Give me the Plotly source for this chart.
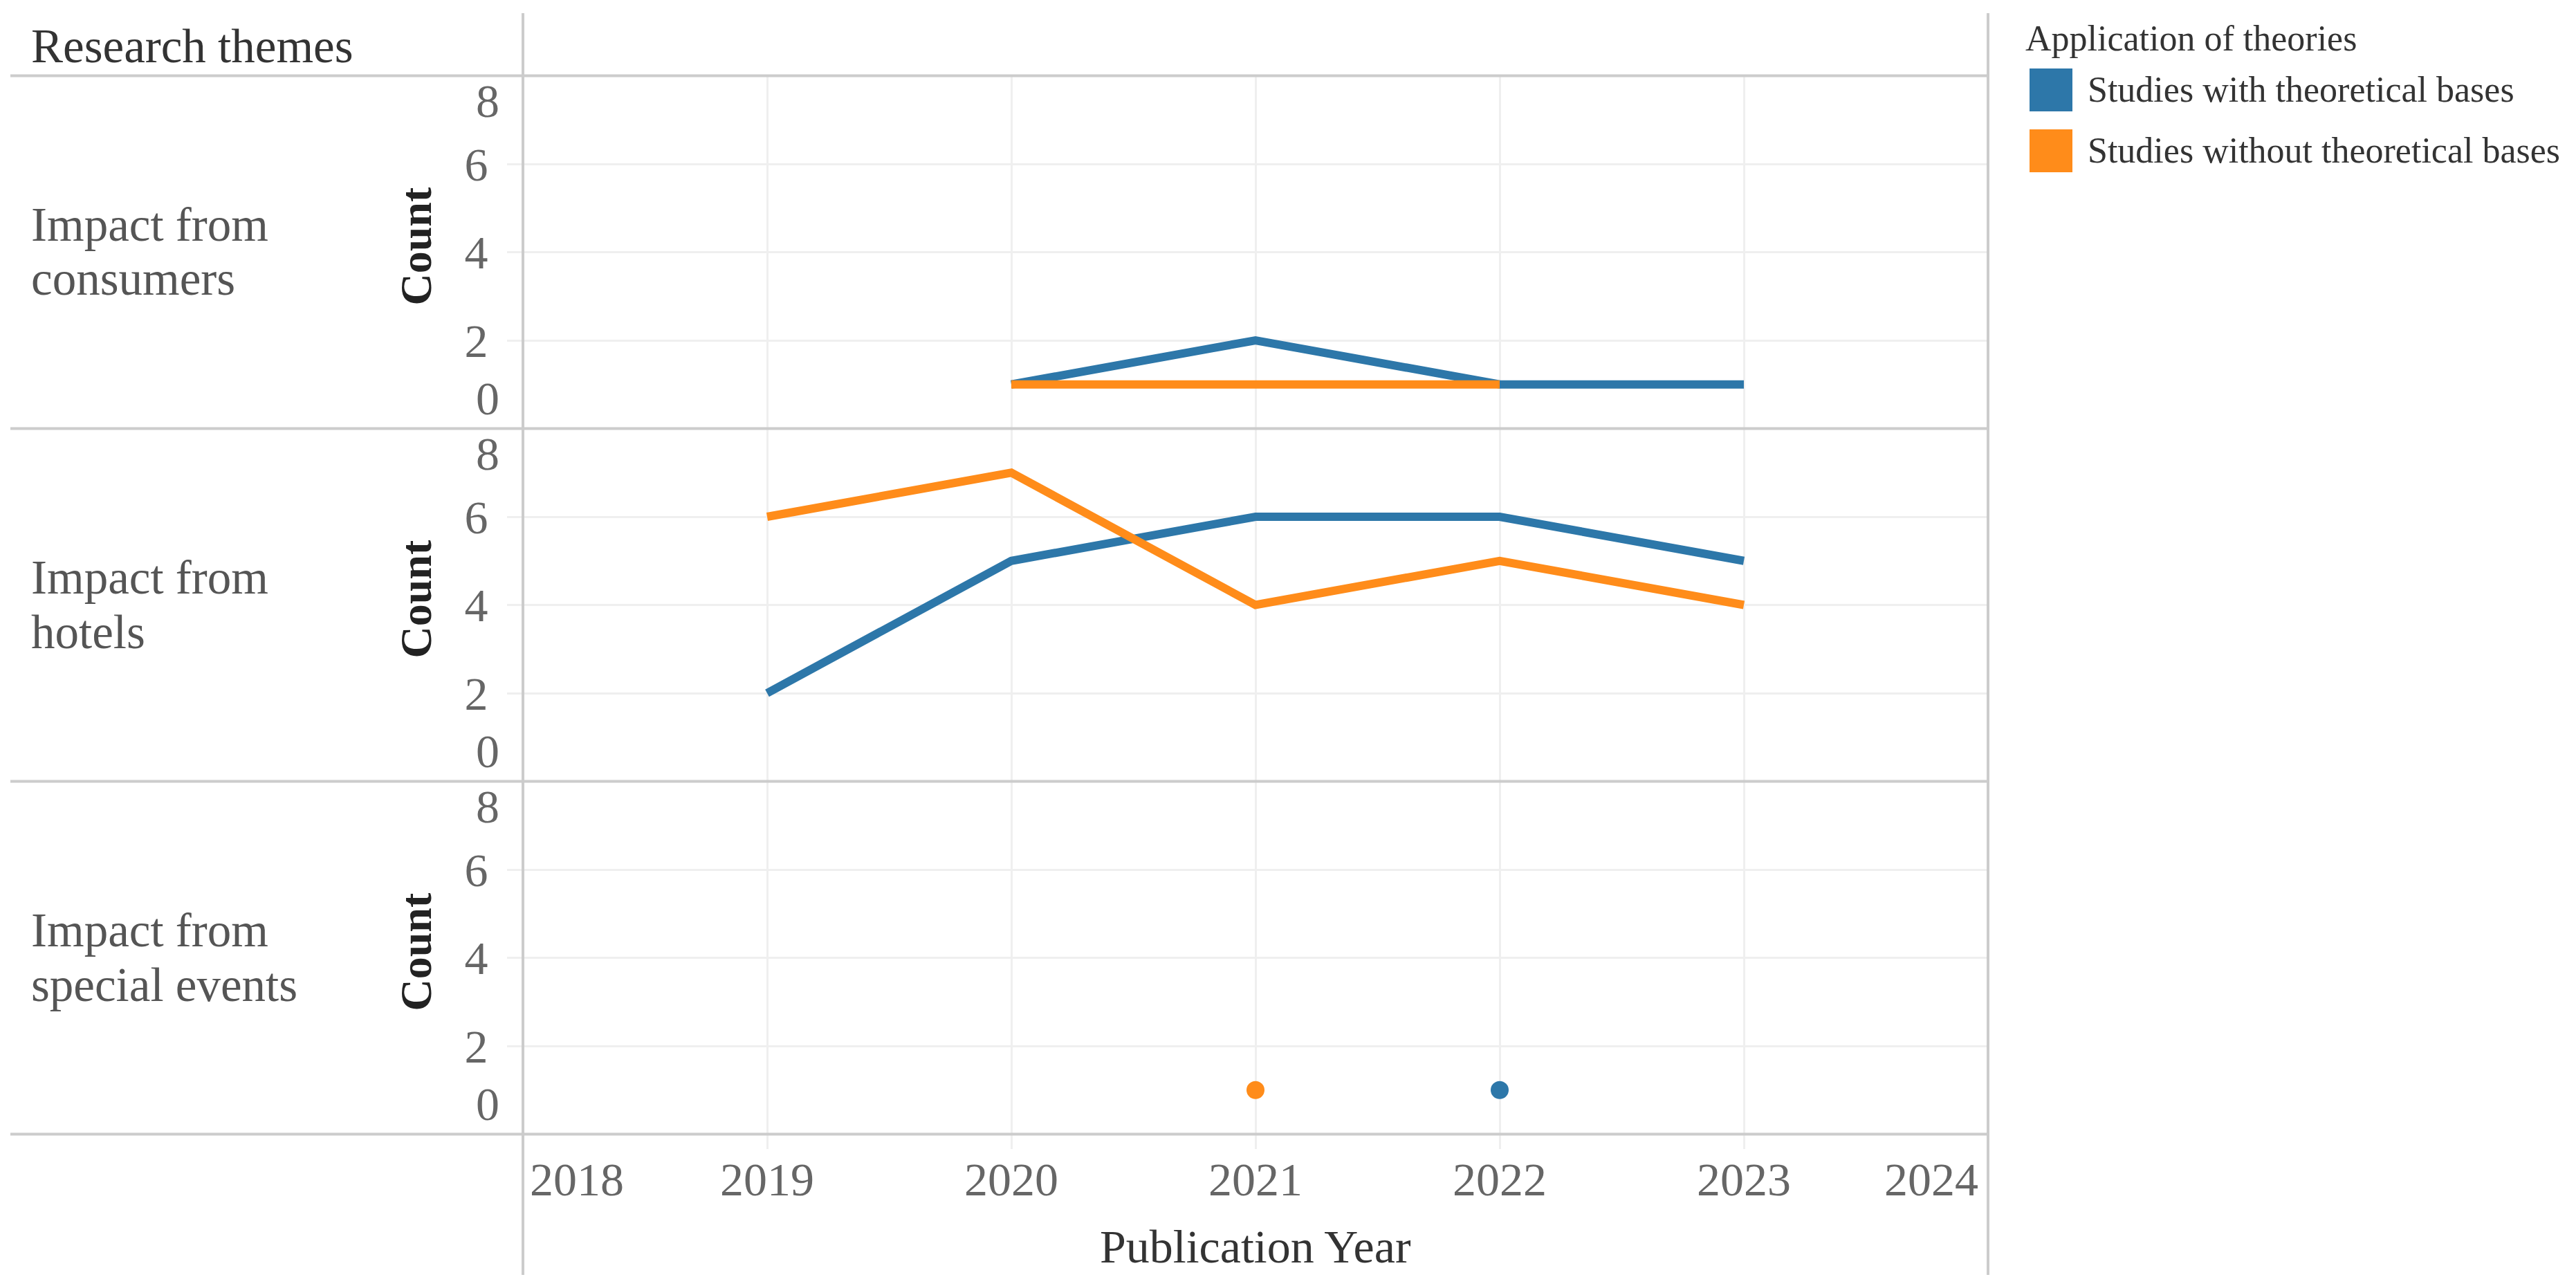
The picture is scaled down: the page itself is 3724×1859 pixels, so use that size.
import plotly.graph_objects as go

# ---------------- data ----------------
theme_lines = [["Impact from", "consumers"],
               ["Impact from", "hotels"],
               ["Impact from", "special events"]]
series_names = ["Studies with theoretical bases", "Studies without theoretical bases"]
series_colors = ["#2D77A9", "#FF8C1A"]

cons_with_years = [2020, 2021, 2022, 2023]
cons_with_counts = [1, 2, 1, 1]
cons_without_years = [2020, 2021, 2022]
cons_without_counts = [1, 1, 1]

hotel_with_years = [2019, 2020, 2021, 2022, 2023]
hotel_with_counts = [2, 5, 6, 6, 5]
hotel_without_years = [2019, 2020, 2021, 2022, 2023]
hotel_without_counts = [6, 7, 4, 5, 4]

event_with_years = [2022]
event_with_counts = [1]
event_without_years = [2021]
event_without_counts = [1]

x_ticks = [2018, 2019, 2020, 2021, 2022, 2023, 2024]
y_ticks = [0, 2, 4, 6, 8]

header_text = "Research themes"
y_title = "Count"
x_title = "Publication Year"
legend_title = "Application of theories"

panels = [
    [(cons_with_years, cons_with_counts), (cons_without_years, cons_without_counts)],
    [(hotel_with_years, hotel_with_counts), (hotel_without_years, hotel_without_counts)],
    [(event_with_years, event_with_counts), (event_without_years, event_without_counts)],
]

# ---------------- geometry (pixels) ----------------
W, H = 3724, 1859
FONT = "Liberation Serif"
GRID = "#EFEFEF"
SEP = "#CCCCCC"
TICK_COLOR = "#666666"
PX_L, PX_R = 756, 2874
bounds = [(109.5, 619.5), (619.5, 1129.5), (1129.5, 1639.5)]


def fx(p):
    return p / W


def fy(p):
    return 1 - p / H


fig = go.Figure()

for i, panel in enumerate(panels, start=1):
    for (xs, ys), name, color in zip(panel, series_names, series_colors):
        fig.add_trace(go.Scatter(
            x=xs, y=ys, name=name,
            mode="lines" if len(xs) > 1 else "markers",
            line=dict(color=color, width=12),
            marker=dict(color=color, size=26),
            xaxis=f"x{i}", yaxis=f"y{i}",
            showlegend=False, cliponaxis=False,
        ))

layout = dict(
    width=W, height=H,
    margin=dict(l=0, r=0, t=0, b=0, pad=0),
    paper_bgcolor="white", plot_bgcolor="white",
    font=dict(family=FONT, color="#555555"),
    showlegend=False,
)

for i, (top, bot) in enumerate(bounds, start=1):
    last = i == len(bounds)
    layout[f"xaxis{i}"] = dict(
        domain=[fx(PX_L), fx(PX_R)], range=[x_ticks[0], x_ticks[-1]],
        anchor=f"y{i}", tickvals=x_ticks[1:-1],
        showgrid=True, gridcolor=GRID, gridwidth=3,
        zeroline=False, showline=False,
        ticks="outside" if last else "", ticklen=20, tickwidth=3, tickcolor=GRID,
        showticklabels=False,
    )
    layout[f"yaxis{i}"] = dict(
        domain=[fy(bot), fy(top)], range=[y_ticks[0], y_ticks[-1]],
        anchor=f"x{i}", tickvals=y_ticks[1:-1],
        ticktext=[str(t) for t in y_ticks[1:-1]],
        showgrid=True, gridcolor=GRID, gridwidth=3,
        zeroline=False, showline=False,
        ticks="outside", ticklen=22, tickwidth=3, tickcolor=GRID,
        ticklabelstandoff=14,
        tickfont=dict(family=FONT, size=68, color=TICK_COLOR),
    )

fig.update_layout(**layout)

shapes = []
for yy in [109.5, 619.5, 1129.5, 1639.5]:
    shapes.append(dict(type="line", xref="paper", yref="paper",
                       x0=fx(15), x1=fx(PX_R + 2), y0=fy(yy), y1=fy(yy),
                       line=dict(color=SEP, width=4)))
for xx in [PX_L, PX_R]:
    shapes.append(dict(type="line", xref="paper", yref="paper",
                       x0=fx(xx), x1=fx(xx), y0=fy(19), y1=fy(1843),
                       line=dict(color=SEP, width=4)))

annotations = []
# header
annotations.append(dict(text=header_text, xref="paper", yref="paper",
                        x=fx(43), y=fy(67), xanchor="left", yanchor="middle",
                        showarrow=False,
                        font=dict(family=FONT, size=69, color="#333333")))

for i, ((top, bot), lines) in enumerate(zip(bounds, theme_lines), start=1):
    mid = (top + bot) / 2
    # row labels
    for k, line in enumerate(lines):
        annotations.append(dict(text=line, xref="paper", yref="paper",
                                x=fx(43), y=fy(mid - 40 + 79 * k),
                                xanchor="left", yanchor="middle", showarrow=False,
                                font=dict(family=FONT, size=69, color="#555555")))
    # y title
    annotations.append(dict(text=y_title, xref="paper", yref="paper",
                            x=fx(601), y=fy(mid - 8), xanchor="center", yanchor="middle",
                            textangle=-90, showarrow=False,
                            font=dict(family=FONT, size=64, color="#222222", weight="bold")))
    # edge y tick labels (shifted inside the panel, as in the original)
    annotations.append(dict(text=str(y_ticks[-1]), xref="paper", yref=f"y{i}",
                            x=fx(724), y=y_ticks[-1], yshift=-36,
                            xanchor="right", yanchor="middle", showarrow=False,
                            font=dict(family=FONT, size=68, color=TICK_COLOR)))
    annotations.append(dict(text=str(y_ticks[0]), xref="paper", yref=f"y{i}",
                            x=fx(724), y=y_ticks[0], yshift=44,
                            xanchor="right", yanchor="middle", showarrow=False,
                            font=dict(family=FONT, size=68, color=TICK_COLOR)))

# x tick labels (edge labels kept inside the axis range)
for j, t in enumerate(x_ticks):
    if j == 0:
        anchor, shift = "left", 8
    elif j == len(x_ticks) - 1:
        anchor, shift = "right", -12
    else:
        anchor, shift = "center", 0
    annotations.append(dict(text=str(t), xref="x3", yref="paper",
                            x=t, xshift=shift, y=fy(1705), xanchor=anchor, yanchor="middle",
                            showarrow=False, font=dict(family=FONT, size=68, color=TICK_COLOR)))
# x title
annotations.append(dict(text=x_title, xref="paper", yref="paper",
                        x=fx((PX_L + PX_R) / 2), y=fy(1802), xanchor="center", yanchor="middle",
                        showarrow=False, font=dict(family=FONT, size=68, color="#333333")))

# legend
annotations.append(dict(text=legend_title, xref="paper", yref="paper",
                        x=fx(2926), y=fy(55), xanchor="left", yanchor="middle",
                        showarrow=False, font=dict(family=FONT, size=52, color="#333333")))
for k, (name, color) in enumerate(zip(series_names, series_colors)):
    top = 99 + 88 * k
    shapes.append(dict(type="rect", xref="paper", yref="paper",
                       x0=fx(2934), x1=fx(2996), y0=fy(top), y1=fy(top + 62),
                       line=dict(width=0), fillcolor=color))
    annotations.append(dict(text=name, xref="paper", yref="paper",
                            x=fx(3016), y=fy(top + 31), xanchor="left", yanchor="middle",
                            showarrow=False, font=dict(family=FONT, size=52, color="#333333")))

fig.update_layout(shapes=shapes, annotations=annotations)

fig.write_html("out.html", config={"displayModeBar": False},
               post_script="document.body.style.margin='0';document.body.style.overflow='hidden';")
